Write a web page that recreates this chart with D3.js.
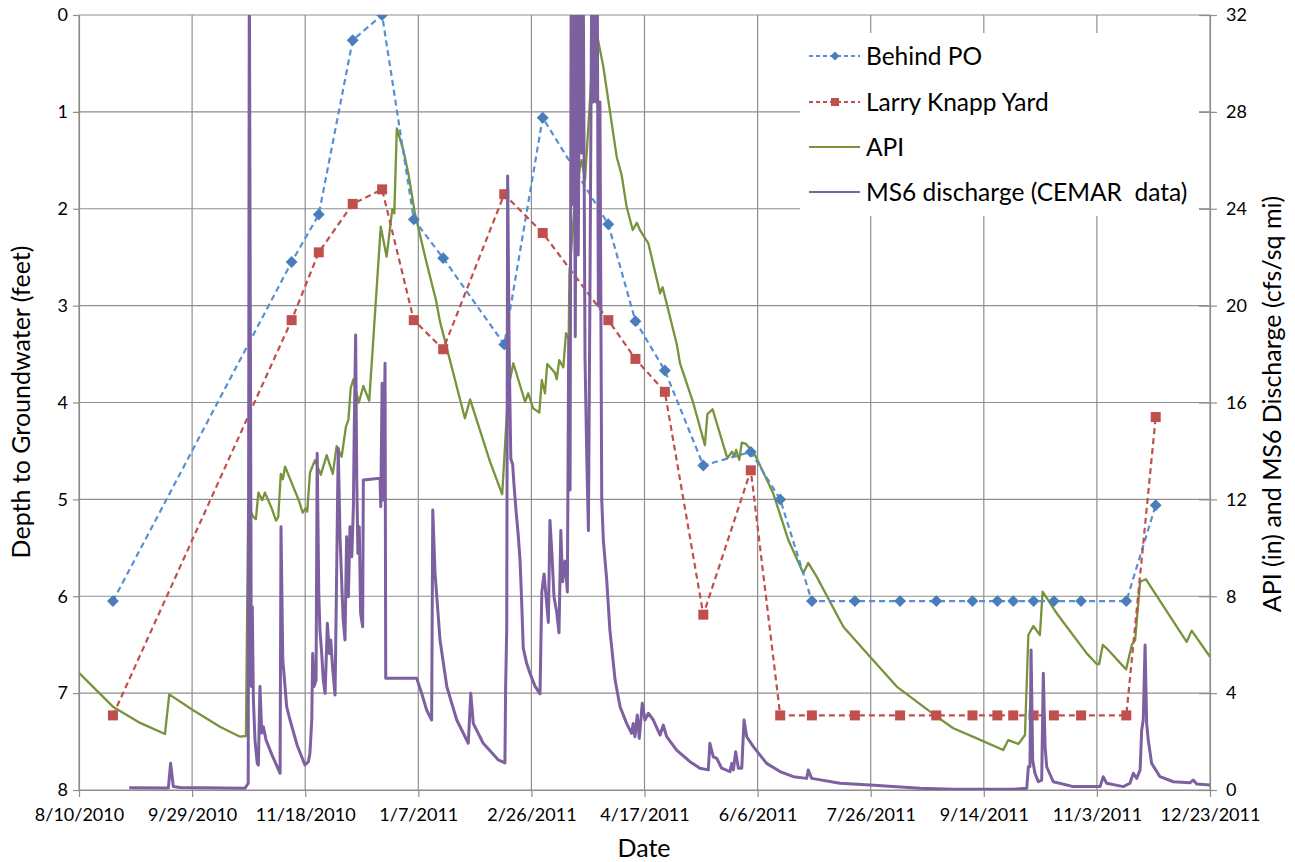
<!DOCTYPE html>
<html>
<head>
<meta charset="utf-8">
<script src="https://cdn.jsdelivr.net/npm/d3@7"></script>
<style>
  body { margin: 0; background: #fff; }
  svg text { font-family: Lato, "Open Sans", sans-serif; fill: #000; }
</style>
</head>
<body>
<svg id="chart" width="1295" height="862"></svg>
<script>
// ---- data ----
const startDate = "2010-08-10";
const endDate = "2011-12-23";
const dateTicks = ["8/10/2010", "9/29/2010", "11/18/2010", "1/7/2011", "2/26/2011", "4/17/2011",
                   "6/6/2011", "7/26/2011", "9/14/2011", "11/3/2011", "12/23/2011"];
const depthTicks = [0, 1, 2, 3, 4, 5, 6, 7, 8];
const flowTicks = [0, 4, 8, 12, 16, 20, 24, 28, 32];

// Well sounding dates (shared by both wells)
const wellDates = ["2010-08-25", "2010-11-12", "2010-11-24", "2010-12-09", "2010-12-22", "2011-01-05",
  "2011-01-18", "2011-02-14", "2011-03-03", "2011-04-01", "2011-04-13", "2011-04-26", "2011-05-13",
  "2011-06-03", "2011-06-16", "2011-06-30", "2011-07-19", "2011-08-08", "2011-08-24", "2011-09-09",
  "2011-09-20", "2011-09-27", "2011-10-06", "2011-10-15", "2011-10-27", "2011-11-16", "2011-11-29"];
// Depth to groundwater (feet)
const behindPO = [6.05, 2.55, 2.06, 0.26, 0.0, 2.11, 2.51, 3.40, 1.06, 2.16, 3.16, 3.67, 4.65,
  4.51, 5.0, 6.05, 6.05, 6.05, 6.05, 6.05, 6.05, 6.05, 6.05, 6.05, 6.05, 6.05, 5.06];
const larryKnapp = [7.23, 3.15, 2.45, 1.95, 1.80, 3.15, 3.45, 1.85, 2.25, 3.15, 3.55, 3.89, 6.19,
  4.70, 7.23, 7.23, 7.23, 7.23, 7.23, 7.23, 7.23, 7.23, 7.23, 7.23, 7.23, 7.23, 4.15];

// Antecedent precipitation index (in): [days since start, value]
const apiSeries = [[0,4.84],[15.0,3.44],[27.0,2.77],[38.0,2.31],[39.9,3.95],[50.3,3.30],[62.3,2.61],
  [71.2,2.20],[73.8,2.23],[74.8,11.70],[77.1,11.28],[78.2,11.18],[79.3,12.28],[81.0,11.97],[82.2,12.28],
  [85.2,11.63],[87.1,11.12],[88.1,11.28],[89.2,13.05],[90.1,12.83],[91.1,13.35],[97.4,11.90],[98.9,11.45],
  [100.2,11.63],[100.9,11.49],[102.1,13.10],[104.3,13.62],[106.9,13.01],[109.5,13.83],[112.2,13.05],
  [113.9,14.20],[116.1,13.76],[118.0,15.00],[119.1,15.28],[120.1,16.59],[121.3,16.96],[123.7,15.99],
  [125.7,16.68],[128.3,16.07],[133.4,23.26],[136.0,22.02],[138.5,23.98],[139.4,23.81],[140.5,27.32],
  [143.4,26.42],[145.6,25.46],[148.5,23.81],[153.7,21.75],[157.8,20.23],[159.6,19.34],[170.6,15.35],
  [172.9,16.13],[181.7,13.56],[187.1,12.21],[189.8,16.59],[192.0,17.62],[197.2,16.03],[198.6,16.38],
  [200.8,15.76],[203.5,15.58],[204.6,16.93],[206.0,16.38],[207.0,17.59],[210.4,17.23],[211.2,16.96],
  [212.3,17.75],[214.1,17.45],[215.3,18.86],[216.5,18.65],[216.8,21.33],[219.3,24.36],[221.5,25.74],
  [222.2,26.01],[223.7,25.19],[225.9,28.49],[227.4,30.97],[228.9,31.24],[231.8,29.86],[237.7,26.15],
  [239.9,25.39],[242.1,24.08],[244.8,23.12],[246.6,23.42],[248.0,23.12],[251.7,22.57],[256.9,20.51],
  [258.0,20.76],[264.2,18.44],[265.7,17.62],[271.6,15.97],[276.7,14.24],[277.8,15.52],[280.1,15.72],
  [286.6,13.70],[288.7,13.97],[289.6,13.76],[290.5,14.04],[291.9,13.63],[293.0,14.34],[294.9,14.29],
  [298.9,13.83],[306.9,12.25],[313.6,10.32],[320.2,8.95],[322.4,9.38],[326.1,8.81],[337.9,6.74],
  [349.7,5.50],[361.5,4.27],[379.2,3.03],[386.5,2.55],[396.9,2.13],[408.6,1.65],[410.8,2.06],
  [415.3,1.90],[418.2,2.27],[419.7,6.40],[421.9,6.77],[424.8,6.40],[426.0,8.19],[432.2,7.30],
  [445.5,5.64],[449.9,5.20],[451.0,5.20],[452.6,5.99],[454.3,5.85],[462.9,4.98],[465.4,5.99],
  [466.9,6.19],[469.1,8.60],[471.7,8.70],[482.4,7.16],[489.7,6.12],[491.9,6.58],[500,5.50]];

// MS6 discharge (cfs/sq mi): [days since start, value]
const dischargeSeries = [[22.2,0.09],[39.5,0.08],[40.5,1.10],[41.7,0.14],[44.7,0.10],[73.4,0.07],
  [74.8,0.28],[75.3,34],[76.2,4.27],[76.6,7.57],[77.1,3.72],[77.8,2.06],[78.8,1.10],[79.3,1.03],
  [80.0,4.27],[80.8,2.35],[81.5,2.61],[82.7,2.06],[85.3,1.45],[88.9,0.69],[89.3,10.87],[90.1,5.37],
  [91.1,4.27],[91.8,3.44],[93.3,2.89],[96.4,1.86],[99.9,1.03],[101.4,1.17],[102.1,1.52],[102.9,2.89],
  [103.3,5.64],[103.9,4.27],[104.8,4.54],[105.3,13.90],[106.0,8.12],[106.5,6.61],[107.3,5.64],
  [108.0,4.54],[108.8,3.99],[109.8,6.88],[110.7,5.64],[111.3,6.19],[112.2,4.95],[113.2,3.92],
  [113.9,8.95],[114.6,14.11],[115.4,10.46],[116.1,8.67],[116.8,7.02],[117.6,6.19],[118.3,10.46],
  [119.1,7.98],[119.8,10.87],[120.6,9.63],[121.3,11.70],[121.7,15.00],[122.3,18.79],[122.8,12.80],
  [123.3,9.77],[123.9,10.87],[124.5,7.30],[125.4,6.74],[125.7,12.80],[133.1,12.87],[133.4,11.70],
  [134.0,16.79],[134.5,11.97],[135.3,17.62],[135.6,4.61],[149.3,4.61],[151.5,3.99],[153.7,3.30],
  [155.9,2.89],[156.4,11.56],[157.4,8.95],[158.4,7.71],[159.6,6.19],[162.6,4.27],[167.0,2.89],
  [172.1,1.93],[173.2,3.99],[174.3,2.75],[178.7,1.93],[185.4,1.24],[188.3,1.12],[188.6,4.18],
  [189.1,6.71],[189.5,25.35],[190.2,17.88],[190.9,13.67],[191.7,13.46],[192.3,12.61],[193.2,11.55],
  [194.2,10.50],[195.0,9.45],[195.7,7.76],[196.4,5.86],[197.9,5.23],[199.4,4.81],[201.6,4.29],
  [203.8,3.97],[204.6,8.18],[205.6,8.92],[206.5,7.97],[207.5,6.92],[208.2,11.13],[209.0,9.87],
  [210.0,7.97],[211.2,7.34],[212.2,6.49],[213.0,10.71],[213.8,8.60],[214.9,9.45],[215.9,8.18],
  [216.5,18.72],[217.1,12.39],[217.6,34],[218.3,24.19],[218.8,34],[219.4,18.72],[220.0,34],
  [220.7,22.09],[221.5,34],[222.2,26.30],[222.9,34],[223.7,17.88],[224.5,13.67],[225.2,10.71],
  [225.9,20.82],[226.7,34],[227.4,28.41],[228.1,34],[228.6,28.41],[229.1,34],[229.6,19.98],
  [230.3,28.41],[231.1,11.97],[231.8,10.32],[233.3,8.67],[234.7,6.61],[237.0,4.54],[239.2,3.44],
  [242.1,2.75],[244.3,2.34],[245.0,2.75],[245.8,2.20],[246.8,3.10],[247.7,2.13],[249.0,3.58],
  [250.2,2.89],[251.7,3.17],[253.9,2.89],[256.9,2.27],[258.3,2.68],[259.8,2.20],[264.2,1.65],
  [270.1,1.17],[274.5,0.90],[278.2,0.83],[278.9,1.93],[280.4,1.37],[281.9,1.31],[284.1,0.90],
  [287.8,0.76],[288.6,1.10],[289.3,0.83],[290.3,1.58],[291.5,0.90],[293.0,0.90],[294.0,2.89],
  [295.2,2.20],[298.1,1.79],[304.0,1.10],[309.9,0.76],[315.8,0.55],[321.7,0.48],[322.4,0.83],
  [323.9,0.48],[336.4,0.28],[349.7,0.21],[371.8,0.07],[386.5,0.03],[413.0,0.03],[419.0,0.07],
  [419.7,0.96],[420.4,0.96],[420.9,5.78],[421.6,1.24],[422.6,0.69],[424.1,0.34],[425.6,0.41],
  [426.3,4.82],[427.1,1.79],[427.8,0.96],[430.7,0.34],[439.6,0.14],[451.4,0.14],[452.8,0.55],
  [454.3,0.28],[461.7,0.14],[464.6,0.28],[466.1,0.69],[467.6,0.48],[469.1,0.83],[469.8,2.48],
  [470.5,2.89],[471.3,5.99],[472.0,2.75],[472.7,2.06],[474.2,1.10],[477.9,0.55],[483.8,0.34],
  [491.1,0.30],[492.6,0.41],[494.1,0.25],[500,0.21]];

const seriesNames = ["Behind PO", "Larry Knapp Yard", "API", "MS6 discharge (CEMAR  data)"];

// ---- layout ----
const W = 1295, H = 862;
const margin = { top: 15, right: 85, bottom: 72, left: 79 };
const innerW = W - margin.left - margin.right;
const innerH = H - margin.top - margin.bottom;

const colors = {
  po: "#5590D6", poMark: "#4A7EBB",
  lk: "#C0504D",
  api: "#77933C",
  ms6: "#7D60A0",
  grid: "#8E8E8E"
};

const parseIso = d3.utcParse("%Y-%m-%d");
const parseTick = d3.utcParse("%m/%d/%Y");
const fmtTick = d3.utcFormat("%-m/%-d/%Y");
const t0 = parseIso(startDate);
const dayToDate = d => new Date(t0.getTime() + d * 864e5);

const x = d3.scaleUtc().domain([t0, parseIso(endDate)]).range([0, innerW]);
const yDepth = d3.scaleLinear().domain([0, 8]).range([0, innerH]);
const yFlow = d3.scaleLinear().domain([0, 32]).range([innerH, 0]);

const svg = d3.select("#chart");
const g = svg.append("g").attr("transform", `translate(${margin.left},${margin.top})`);

svg.append("defs").append("clipPath").attr("id", "plotClip")
  .append("rect").attr("x", 0).attr("y", 0).attr("width", innerW).attr("height", innerH);

const tickDates = dateTicks.map(parseTick);

// gridlines
g.append("g").selectAll("line.v").data(tickDates).join("line")
  .attr("x1", d => x(d)).attr("x2", d => x(d)).attr("y1", 0).attr("y2", innerH)
  .attr("stroke", colors.grid).attr("stroke-width", 1.2);
g.append("g").selectAll("line.h").data(depthTicks).join("line")
  .attr("x1", 0).attr("x2", innerW).attr("y1", d => yDepth(d)).attr("y2", d => yDepth(d))
  .attr("stroke", colors.grid).attr("stroke-width", 1.2);

// axes
function styleAxis(sel) {
  sel.select(".domain").attr("stroke", colors.grid).attr("stroke-width", 1.2);
  sel.selectAll(".tick line").attr("stroke", colors.grid).attr("stroke-width", 1.2);
  sel.selectAll(".tick text").attr("fill", "#000").style("font-size", "18px")
    .style("font-family", "Lato, 'Open Sans', sans-serif");
}

const xAxis = g.append("g").attr("transform", `translate(0,${innerH})`)
  .call(d3.axisBottom(x).tickValues(tickDates).tickFormat(fmtTick).tickSize(7).tickSizeOuter(0));
styleAxis(xAxis);
xAxis.selectAll(".tick text").attr("y", 31).attr("dy", 0);

const yLeft = g.append("g")
  .call(d3.axisLeft(yDepth).tickValues(depthTicks).tickSize(6).tickPadding(5).tickSizeOuter(0));
styleAxis(yLeft);

const yRight = g.append("g").attr("transform", `translate(${innerW},0)`)
  .call(d3.axisRight(yFlow).tickValues(flowTicks).tickSize(7).tickPadding(9).tickSizeOuter(0));
styleAxis(yRight);
yRight.selectAll(".tick").append("line").attr("x1", -11).attr("x2", 0)
  .attr("stroke", colors.grid).attr("stroke-width", 1.2);

// series
const plot = g.append("g").attr("clip-path", "url(#plotClip)");

const dayLineFlow = d3.line().x(d => x(dayToDate(d[0]))).y(d => yFlow(d[1]));

plot.append("path").datum(apiSeries).attr("d", dayLineFlow)
  .attr("fill", "none").attr("stroke", colors.api).attr("stroke-width", 2.3)
  .attr("stroke-linejoin", "round");

const wells = wellDates.map((d, i) => ({ date: parseIso(d), po: behindPO[i], lk: larryKnapp[i] }));

const poLine = d3.line().x(d => x(d.date)).y(d => yDepth(d.po));
const lkLine = d3.line().x(d => x(d.date)).y(d => yDepth(d.lk));

plot.append("path").datum(wells).attr("d", poLine)
  .attr("fill", "none").attr("stroke", colors.po).attr("stroke-width", 2.2)
  .attr("stroke-dasharray", "6,4");
plot.append("g").selectAll("path").data(wells).join("path")
  .attr("d", d3.symbol(d3.symbolDiamond2, 90))
  .attr("transform", d => `translate(${x(d.date)},${yDepth(d.po)})`)
  .attr("fill", colors.poMark);

plot.append("path").datum(wells).attr("d", lkLine)
  .attr("fill", "none").attr("stroke", colors.lk).attr("stroke-width", 2.2)
  .attr("stroke-dasharray", "6,4");
plot.append("g").selectAll("rect").data(wells).join("rect")
  .attr("x", d => x(d.date) - 5).attr("y", d => yDepth(d.lk) - 5)
  .attr("width", 10).attr("height", 10).attr("fill", colors.lk);

plot.append("path").datum(dischargeSeries).attr("d", dayLineFlow)
  .attr("fill", "none").attr("stroke", colors.ms6).attr("stroke-width", 3)
  .attr("stroke-linejoin", "round");

// legend
const legend = g.append("g").attr("transform", `translate(${800 - margin.left},${33 - margin.top})`);
legend.append("rect").attr("x", 0).attr("y", 0).attr("width", 399).attr("height", 183).attr("fill", "#fff");
const rowY = [23, 69, 114, 159];
const legendItems = [
  { name: seriesNames[0], color: colors.po, mark: "diamond", dash: "4,3", markColor: colors.poMark },
  { name: seriesNames[1], color: colors.lk, mark: "square", dash: "4,3", markColor: colors.lk },
  { name: seriesNames[2], color: colors.api, mark: null, dash: null },
  { name: seriesNames[3], color: colors.ms6, mark: null, dash: null }
];
legendItems.forEach((it, i) => {
  const row = legend.append("g").attr("transform", `translate(0,${rowY[i]})`);
  row.append("line").attr("x1", 9).attr("x2", 60).attr("y1", 0).attr("y2", 0)
    .attr("stroke", it.color).attr("stroke-width", 2)
    .attr("stroke-dasharray", it.dash);
  if (it.mark === "diamond") {
    row.append("path").attr("d", d3.symbol(d3.symbolDiamond2, 50))
      .attr("transform", "translate(35,0)").attr("fill", it.markColor);
  } else if (it.mark === "square") {
    row.append("rect").attr("x", 31).attr("y", -4).attr("width", 8).attr("height", 8).attr("fill", it.markColor);
  }
  row.append("text").attr("x", 66).attr("dy", "0.35em").style("font-size", "24.5px")
    .style("white-space", "pre").text(it.name);
});

// axis titles
svg.append("text").attr("transform", "translate(30,402) rotate(-90)")
  .attr("text-anchor", "middle").style("font-size", "25px").text("Depth to Groundwater (feet)");
svg.append("text").attr("transform", "translate(1281,404) rotate(-90)")
  .attr("text-anchor", "middle").style("font-size", "25px").text("API (in) and MS6 Discharge (cfs/sq mi)");
svg.append("text").attr("x", 644).attr("y", 857)
  .attr("text-anchor", "middle").style("font-size", "25px").text("Date");
</script>
</body>
</html>
